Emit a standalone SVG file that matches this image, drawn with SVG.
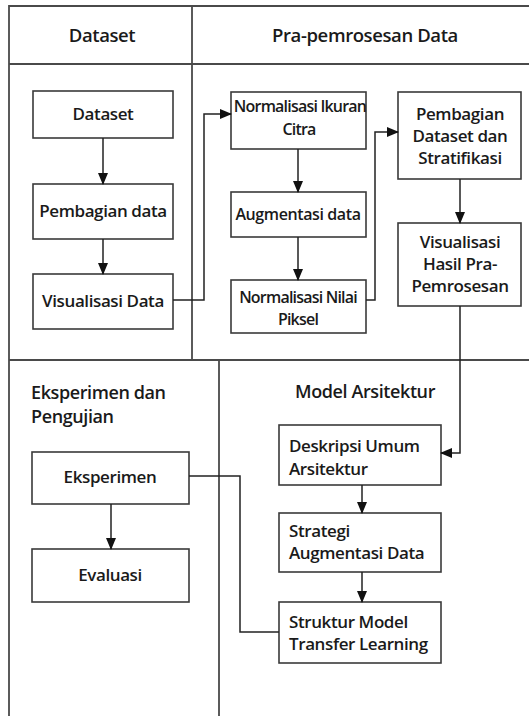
<svg xmlns="http://www.w3.org/2000/svg" width="529" height="716" viewBox="0 0 529 716">
<defs>
<style>
.frame{fill:none;stroke:#4a4a4a;stroke-width:1.8}
.box{fill:#fff;stroke:#3a3a3a;stroke-width:1.6}
.conn{fill:none;stroke:#222;stroke-width:1.5}
text{font-family:"Open Sans","Noto Sans",sans-serif;fill:#1a1a1a;font-weight:600;letter-spacing:-0.4px}
.h{font-size:18.5px;text-anchor:middle}
.t{font-size:17px;text-anchor:middle}
.n{font-size:16px;text-anchor:middle;letter-spacing:-0.8px}
.l{font-size:17px}
.s{font-size:18px}
</style>
<marker id="arr" markerWidth="12" markerHeight="10" refX="11" refY="5" orient="auto" markerUnits="userSpaceOnUse">
<path d="M0,0 L12,5 L0,10 Z" fill="#111"/>
</marker>
</defs>
<rect width="529" height="716" fill="#fff"/>
<g id="frame">
<path class="frame" d="M529,6 H9 V716 M9,64 H529 M192,6 V360 M9,360 H529 M219,360 V716"/>
</g>
<g id="headers">
<text class="h" x="102" y="42">Dataset</text>
<text class="h" x="365" y="42">Pra-pemrosesan Data</text>
<text class="s" x="31" y="399">Eksperimen dan</text>
<text class="s" x="31" y="423">Pengujian</text>
<text class="s" x="365" y="398" text-anchor="middle">Model Arsitektur</text>
</g>
<g id="n-dataset"><rect class="box" x="33" y="91" width="140" height="47"/><text class="t" x="103" y="120">Dataset</text></g>
<g id="n-pembagian"><rect class="box" x="33" y="184" width="140" height="55"/><text class="t" x="103" y="217">Pembagian data</text></g>
<g id="n-visual"><rect class="box" x="33" y="274" width="140" height="55"/><text class="t" x="103" y="307">Visualisasi Data</text></g>
<g id="n-normukuran"><rect class="box" x="231" y="92" width="135" height="57"/><text class="n" x="300" y="112">Normalisasi Ikuran</text><text class="n" x="299" y="135">Citra</text></g>
<g id="n-augment"><rect class="box" x="231" y="192" width="135" height="45"/><text class="t" x="298" y="220" style="font-size:16px">Augmentasi data</text></g>
<g id="n-normnilai"><rect class="box" x="231" y="280" width="135" height="53"/><text class="n" x="298" y="303">Normalisasi Nilai</text><text class="n" x="298" y="325">Piksel</text></g>
<g id="n-stratifikasi"><rect class="box" x="398" y="92" width="123" height="87"/><text class="t" x="460" y="120">Pembagian</text><text class="t" x="460" y="142">Dataset dan</text><text class="t" x="460" y="164">Stratifikasi</text></g>
<g id="n-vishasil"><rect class="box" x="398" y="223" width="123" height="83"/><text class="t" x="460" y="248">Visualisasi</text><text class="t" x="460" y="270">Hasil Pra-</text><text class="t" x="460" y="292">Pemrosesan</text></g>
<g id="n-eksperimen"><rect class="box" x="32" y="452" width="157" height="52"/><text class="t" x="110" y="483">Eksperimen</text></g>
<g id="n-evaluasi"><rect class="box" x="32" y="549" width="157" height="53"/><text class="t" x="110" y="581">Evaluasi</text></g>
<g id="n-deskripsi"><rect class="box" x="279" y="425" width="162" height="60"/><text class="l" x="289" y="452">Deskripsi Umum</text><text class="l" x="289" y="475">Arsitektur</text></g>
<g id="n-strategi"><rect class="box" x="279" y="513" width="162" height="59"/><text class="l" x="289" y="537">Strategi</text><text class="l" x="289" y="559">Augmentasi Data</text></g>
<g id="n-struktur"><rect class="box" x="279" y="602" width="162" height="61"/><text class="l" x="289" y="628">Struktur Model</text><text class="l" x="289" y="650">Transfer Learning</text></g>
<g id="connectors">
<path class="conn" d="M103,138 V184" marker-end="url(#arr)"/>
<path class="conn" d="M103,239 V274" marker-end="url(#arr)"/>
<path class="conn" d="M173,300 H204 V114 H231" marker-end="url(#arr)"/>
<path class="conn" d="M298,149 V192" marker-end="url(#arr)"/>
<path class="conn" d="M298,237 V280" marker-end="url(#arr)"/>
<path class="conn" d="M366,300 H375 V132 H398" marker-end="url(#arr)"/>
<path class="conn" d="M460,179 V223" marker-end="url(#arr)"/>
<path class="conn" d="M460,306 V453 H441" marker-end="url(#arr)"/>
<path class="conn" d="M362,485 V513" marker-end="url(#arr)"/>
<path class="conn" d="M362,572 V602" marker-end="url(#arr)"/>
<path class="conn" d="M111,504 V549" marker-end="url(#arr)"/>
<path class="conn" d="M189,476 H240 V632 H279"/>
</g>
</svg>
